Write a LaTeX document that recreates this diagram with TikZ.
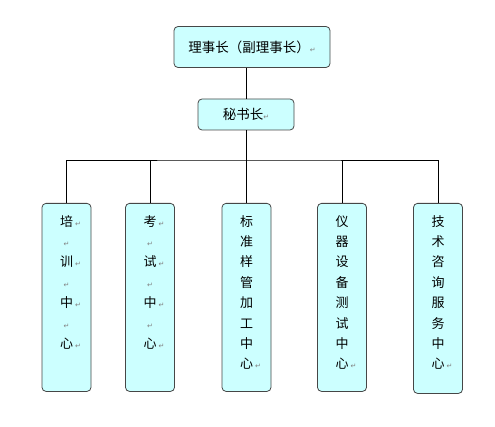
\documentclass[tikz,border=0pt]{standalone}
\usepackage{fontspec}
\newfontfamily\cjk{Noto Sans CJK SC}
\newfontfamily\symfont{DejaVu Sans}
\usetikzlibrary{positioning}
\definecolor{boxfill}{RGB}{204,255,255}
\definecolor{boxline}{RGB}{70,70,70}
% paragraph mark as printed in the reference
\newcommand{\pmk}{{\symfont\fontsize{7}{7}\selectfont\color{gray}↵}}
\newcommand{\rpmk}{\rlap{\,\pmk}}

\begin{document}
\begin{tikzpicture}[x=1pt,y=-1pt,
  box/.style={draw=boxline,fill=boxfill,rounded corners=4pt,line width=0.8pt},
  head/.style={box,font=\cjk\fontsize{13.5}{16}\selectfont,inner sep=0pt},
  col/.style={box,minimum width=49pt,minimum height=188pt,anchor=north},
  coltext/.style={align=center,inner sep=0pt,font=\cjk\fontsize{13}{20.4}\selectfont}]
\useasboundingbox (0,0) rectangle (495,427);

\node[head,minimum width=156pt,minimum height=41pt] (chair) at (252,47) {理事长（副理事长）\pmk};
\node[head,minimum width=96pt,minimum height=31pt] (sec) at (246,114.5) {秘书长\pmk};

% the five centres
\node[col] (c1) at (66.5,203) {};
\node[col] (c2) at (150,203) {};
\node[col] (c3) at (246.5,203) {};
\node[col] (c4) at (342,203) {};
\node[col,minimum height=190pt] (c5) at (438,203) {};

\node[coltext,below=12pt of c1.north] (t1) {培\rpmk\\\pmk\\训\rpmk\\\pmk\\中\rpmk\\\pmk\\心\rpmk};
\node[coltext,below=12pt of c2.north] (t2) {考\rpmk\\\pmk\\试\rpmk\\\pmk\\中\rpmk\\\pmk\\心\rpmk};
\node[coltext,below=12pt of c3.north] (t3) {标\\准\\样\\管\\加\\工\\中\\心\rpmk};
\node[coltext,below=12pt of c4.north] (t4) {仪\\器\\设\\备\\测\\试\\中\\心\rpmk};
\node[coltext,below=12pt of c5.north] (t5) {技\\术\\咨\\询\\服\\务\\中\\心\rpmk};

\coordinate (jn) at (246,160);
\draw (sec.north |- chair.south) -- (sec.north);
\draw (sec.south) -- (jn);
\draw (c1.north) |- (jn) -| (c5.north);
\draw (c2.north) -- (c2.north |- jn);
\draw (c3.north) -- (c3.north |- jn);
\draw (c4.north) -- (c4.north |- jn);
\end{tikzpicture}
\end{document}
